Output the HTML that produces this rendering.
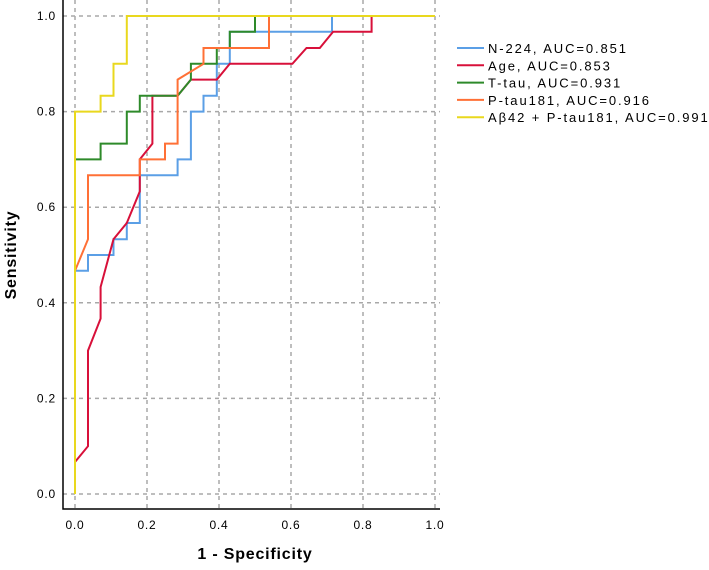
<!DOCTYPE html>
<html><head><meta charset="utf-8"><style>
body{margin:0;background:#fff;}
svg{display:block;font-family:"Liberation Sans",sans-serif;}
</style></head><body>
<svg id="c" width="709" height="570"></svg>
<script>
const xTicks=[0,0.2,0.4,0.6,0.8,1.0];
const yTicks=[0,0.2,0.4,0.6,0.8,1.0];
const tickLabels=["0.0","0.2","0.4","0.6","0.8","1.0"];
const seriesNames=["N-224, AUC=0.851","Age, AUC=0.853","T-tau, AUC=0.931","P-tau181, AUC=0.916","Aβ42 + P-tau181, AUC=0.991"];
const seriesColors=["#5b9fe6","#d8103a","#2e8a2a","#ff7036","#e9d81e"];
const n224X=[0,0.036,0.036,0.107,0.107,0.144,0.144,0.18,0.18,0.285,0.285,0.322,0.322,0.357,0.357,0.394,0.394,0.43,0.43,0.714,0.714,1];
const n224Y=[0.467,0.467,0.5,0.5,0.533,0.533,0.567,0.567,0.667,0.667,0.7,0.7,0.8,0.8,0.833,0.833,0.9,0.9,0.967,0.967,1,1];
const ageX=[0,0,0.036,0.036,0.071,0.071,0.107,0.144,0.18,0.18,0.215,0.215,0.285,0.322,0.394,0.43,0.604,0.643,0.68,0.717,0.824,0.824,1];
const ageY=[0,0.067,0.1,0.3,0.367,0.433,0.533,0.567,0.633,0.7,0.733,0.833,0.833,0.867,0.867,0.9,0.9,0.933,0.933,0.967,0.967,1,1];
const ttauX=[0,0,0.071,0.071,0.144,0.144,0.18,0.18,0.285,0.322,0.322,0.394,0.394,0.43,0.43,0.5,0.5,1];
const ttauY=[0,0.7,0.7,0.733,0.733,0.8,0.8,0.833,0.833,0.867,0.9,0.9,0.933,0.933,0.967,0.967,1,1];
const ptauX=[0,0,0.036,0.036,0.18,0.18,0.25,0.25,0.285,0.285,0.357,0.357,0.539,0.539,1];
const ptauY=[0,0.467,0.533,0.667,0.667,0.7,0.7,0.733,0.733,0.867,0.9,0.933,0.933,1,1];
const comboX=[0,0,0.071,0.071,0.107,0.107,0.144,0.144,1];
const comboY=[0,0.8,0.8,0.833,0.833,0.9,0.9,1,1];
const allX=[n224X,ageX,ttauX,ptauX,comboX];
const allY=[n224Y,ageY,ttauY,ptauY,comboY];
const svg=document.getElementById('c');
const NS='http://www.w3.org/2000/svg';
const sx=v=>75+v*360;
const sy=v=>494-v*478;
function mk(t,a,p){const e=document.createElementNS(NS,t);for(const k in a)e.setAttribute(k,a[k]);(p||svg).appendChild(e);return e;}
xTicks.forEach((v,i)=>{
 const g=mk('line',{x1:sx(v),x2:sx(v),y1:0,y2:509,stroke:'#a8a8a8','stroke-width':1.5,'stroke-dasharray':'4,4'});
 
 
 const t=mk('text',{x:sx(v),y:529,'font-size':12,'text-anchor':'middle',fill:'#000','letter-spacing':'0.8'});
 t.textContent=tickLabels[i];
 
 
});
yTicks.forEach((v,i)=>{
 const g=mk('line',{x1:63,x2:440,y1:sy(v),y2:sy(v),stroke:'#a8a8a8','stroke-width':1.5,'stroke-dasharray':'4,4'});
 
 
 const t=mk('text',{x:56,y:sy(v)+4,'font-size':12,'text-anchor':'end',fill:'#000','letter-spacing':'0.8'});
 t.textContent=tickLabels[i];
 
 
});
const ax=mk('path',{d:'M63,0 V509 H440',stroke:'#000','stroke-width':1.5,fill:'none'});


allX.forEach((xs,s)=>{
 const d=xs.map((x,i)=>(i?'L':'M')+sx(x).toFixed(1)+','+sy(allY[s][i]).toFixed(1)).join(' ');
 const p=mk('path',{d:d,stroke:seriesColors[s],'stroke-width':2,fill:'none'});
 
 
 const ly=48+s*17.3;
 const l=mk('line',{x1:457,x2:484,y1:ly,y2:ly,stroke:seriesColors[s],'stroke-width':2});
 
 
 const t=mk('text',{x:488,y:ly+5,'font-size':13,fill:'#000','letter-spacing':'1.9'});
 t.textContent=seriesNames[s];
 
 
});
const xt=mk('text',{x:255,y:559,'font-size':16,'font-weight':'bold','text-anchor':'middle','letter-spacing':'0.8'});
xt.textContent='1 - Specificity';


const yt=mk('text',{x:0,y:0,'font-size':16,'font-weight':'bold','text-anchor':'middle','letter-spacing':'0.8',transform:'translate(16,255) rotate(-90)'});
yt.textContent='Sensitivity';


</script>
</body></html>
